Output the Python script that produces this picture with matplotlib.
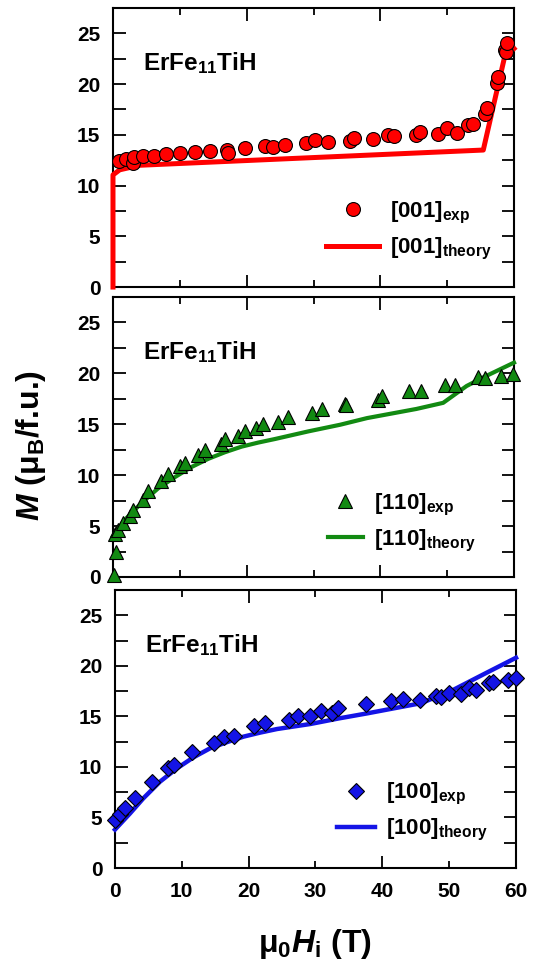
import numpy as np
import matplotlib
matplotlib.use('Agg')
import matplotlib.pyplot as plt
from matplotlib.ticker import MultipleLocator

plt.rcParams['font.family'] = ['Liberation Sans', 'DejaVu Sans']
plt.rcParams['font.weight'] = 'bold'
plt.rcParams['mathtext.fontset'] = 'custom'
plt.rcParams['mathtext.rm'] = 'Liberation Sans:bold'
plt.rcParams['mathtext.bf'] = 'Liberation Sans:bold'
plt.rcParams['mathtext.it'] = 'Liberation Sans:italic:bold'
plt.rcParams['mathtext.bfit'] = 'Liberation Sans:italic:bold'

# --- [001] ---
h001_exp = [0.85, 2.0, 3.0, 3.2, 4.5, 6.2, 8.0, 10.0, 12.2, 14.5, 17.0, 17.2, 19.7,
            22.7, 23.9, 25.7, 28.9, 30.2, 32.2, 35.4, 36.0, 38.9, 41.1, 42.1, 45.4,
            45.9, 48.6, 49.9, 51.4, 53.1, 53.9, 55.6, 55.9, 57.4, 57.6, 58.6, 58.75, 58.9]
m001_exp = [12.4, 12.6, 12.2, 12.8, 12.9, 12.95, 13.1, 13.2, 13.35, 13.45, 13.5, 13.25, 13.7,
            13.85, 13.8, 14.0, 14.2, 14.45, 14.3, 14.4, 14.65, 14.55, 15.0, 14.9, 15.0,
            15.3, 15.1, 15.65, 15.2, 16.0, 16.1, 17.1, 17.6, 20.1, 20.7, 23.4, 23.2, 24.0]
h001_th = [0.0, 0.0, 1.0, 4.0, 55.4, 58.6, 60.0]
m001_th = [0.0, 11.05, 11.55, 12.0, 13.5, 22.7, 23.5]

# --- [110] ---
h110_exp = [0.1, 0.5, 0.25, 0.75, 1.5, 2.5, 3.0, 4.5, 5.2, 7.2, 8.2, 10.0, 10.7, 12.7,
            13.7, 16.2, 16.7, 18.7, 19.7, 21.4, 22.4, 24.7, 26.2, 29.7, 31.2, 34.7, 34.9,
            39.7, 40.3, 44.3, 46.1, 49.6, 51.1, 54.6, 55.6, 58.1, 59.9]
m110_exp = [0.2, 2.5, 4.2, 4.65, 5.3, 6.0, 6.6, 7.6, 8.4, 9.4, 10.1, 10.9, 11.2, 12.0,
            12.5, 13.1, 13.5, 13.8, 14.3, 14.65, 15.05, 15.2, 15.7, 16.1, 16.5, 17.0, 16.85,
            17.4, 17.8, 18.3, 18.3, 18.9, 18.9, 19.6, 19.5, 19.7, 19.9]
h110_th = [0.0, 1.75, 4.25, 6.75, 9.25, 11.75, 14.25, 16.75, 19.25, 21.75, 24.25, 29.25,
           34.0, 38.0, 45.4, 49.4, 52.9, 55.4, 60.0]
m110_th = [4.0, 5.6, 7.25, 8.7, 9.8, 10.8, 11.6, 12.25, 12.8, 13.2, 13.55, 14.3,
           14.95, 15.6, 16.5, 17.1, 18.75, 19.6, 21.05]

# --- [100] ---
h100_exp = [0.0, 0.75, 1.5, 3.0, 5.5, 8.0, 8.85, 11.5, 14.75, 16.25, 17.75, 20.75, 22.5,
            26.0, 27.35, 29.25, 30.85, 32.5, 33.4, 37.5, 41.25, 43.1, 45.65, 48.0, 48.75,
            50.0, 51.75, 53.0, 54.0, 56.0, 56.5, 58.75, 60.0]
m100_exp = [4.75, 5.3, 5.9, 6.9, 8.55, 9.85, 10.2, 11.5, 12.4, 13.0, 13.1, 14.0, 14.3,
            14.6, 15.0, 15.0, 15.5, 15.3, 15.85, 16.2, 16.5, 16.7, 16.6, 17.0, 16.9,
            17.3, 17.2, 17.8, 17.6, 18.3, 18.4, 18.6, 18.8]
h100_th = [0.0, 2.25, 4.25, 6.75, 9.25, 11.75, 14.25, 16.75, 19.25, 21.75, 24.25, 29.25,
           33.5, 37.75, 45.75, 50.25, 55.25, 60.0]
m100_th = [3.8, 5.4, 6.9, 8.55, 9.85, 10.95, 11.85, 12.45, 13.0, 13.4, 13.75, 14.25,
           14.8, 15.3, 16.3, 17.5, 19.2, 20.8]

panels = [
    dict(h=h001_exp, m=m001_exp, ht=h001_th, mt=m001_th, color='#ff0000', marker='o',
         ms=10, lw=3.6, lab='[001]', rect=[0.2108, 0.701, 0.7482, 0.2907],
         hl=2.4, leg=(0.945, 0.09)),
    dict(h=h110_exp, m=m110_exp, ht=h110_th, mt=m110_th, color='#128a12', marker='^',
         ms=10, lw=3.0, lab='[110]', rect=[0.2108, 0.399, 0.7482, 0.2917],
         hl=1.6, leg=(0.905, 0.083)),
    dict(h=h100_exp, m=m100_exp, ht=h100_th, mt=m100_th, color='#1414e6', marker='D',
         ms=8, lw=3.2, lab='[100]', rect=[0.2145, 0.0958, 0.7482, 0.2896],
         hl=1.7, leg=(0.93, 0.09)),
]

fig = plt.figure(figsize=(5.36, 9.6), dpi=100)

for i, p in enumerate(panels):
    ax = fig.add_axes(p['rect'])
    ax.plot(p['h'], p['m'], linestyle='none', marker=p['marker'], ms=p['ms'],
            mfc=p['color'], mec='black', mew=0.8, label=p['lab'] + r'$_\mathbf{exp}$',
            zorder=4, clip_on=False)
    ax.plot(p['ht'], p['mt'], color=p['color'], lw=p['lw'],
            label=p['lab'] + r'$_\mathbf{theory}$', zorder=3, clip_on=False)
    ax.set_xlim(0, 60)
    ax.set_ylim(0, 27.5)
    ax.xaxis.set_major_locator(MultipleLocator(20))
    ax.xaxis.set_minor_locator(MultipleLocator(10))
    ax.yaxis.set_major_locator(MultipleLocator(5))
    ax.yaxis.set_minor_locator(MultipleLocator(2.5))
    ax.tick_params(which='both', direction='in', top=True, right=True,
                   width=1.3, labelsize=15, pad=9)
    ax.tick_params(axis='y', which='both', length=9)
    ax.tick_params(axis='x', which='major', length=9)
    ax.tick_params(axis='x', which='minor', length=5)
    for s in ax.spines.values():
        s.set_linewidth(1.5)
    if i == 2:
        ax.xaxis.set_minor_formatter(plt.FuncFormatter(lambda v, _: f'{v:.0f}'))
        ax.tick_params(axis='x', which='both', pad=10, labelsize=15)
    else:
        ax.tick_params(axis='x', which='both', labelbottom=False)
    ax.text(0.075, 0.778, r'ErFe$_\mathbf{11}$TiH', transform=ax.transAxes,
            fontsize=17.5, fontweight='bold', va='baseline')
    ax.legend(loc='lower right', bbox_to_anchor=p['leg'], frameon=False, fontsize=16,
              handlelength=p['hl'], handletextpad=0.5, labelspacing=0.45,
              borderpad=0, borderaxespad=0, numpoints=1)

fig.text(0.058, 1 - 445 / 960, r'$\mathbfit{M}$ (μ$_\mathbf{B}$/f.u.)', rotation=90,
         ha='center', va='center', fontsize=23)
fig.text(315 / 536, 1 - 944 / 960, r'μ$_\mathbf{0}\mathbfit{H}_\mathbf{i}$ (T)',
         ha='center', va='center', fontsize=23)

fig.savefig('out.png', dpi=100)
